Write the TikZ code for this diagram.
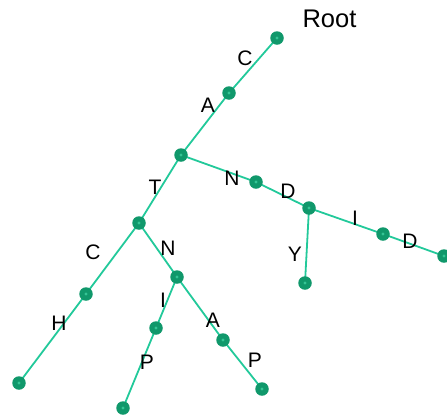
\documentclass[tikz,border=0pt]{standalone}
\usepackage{fontspec}
\setmainfont{Liberation Sans}
\definecolor{edgec}{HTML}{22C99A}
\definecolor{nodec}{HTML}{10986B}
\definecolor{dotc}{HTML}{35C495}
\begin{document}
\begin{tikzpicture}[x=1pt,y=-1pt,
  tn/.style={circle,fill=nodec,inner sep=0pt,minimum size=13.5pt,
    path picture={\fill[dotc] (path picture bounding box.center) circle (1.6pt);}},
  edge/.style={draw=edgec,line width=1.8pt},
  lbl/.style={font=\fontsize{21}{21}\selectfont,inner sep=0pt}]
\useasboundingbox (0,0) rectangle (447,416);
\coordinate (r) at (277,38);
\coordinate (a1) at (229,93);
\coordinate (t) at (181,155);
\coordinate (n1) at (256,182);
\coordinate (d1) at (309,208);
\coordinate (i1) at (383,234);
\coordinate (d2) at (444,256);
\coordinate (y) at (305,283);
\coordinate (c2) at (139,223);
\coordinate (h1) at (86,294);
\coordinate (h2) at (19,383);
\coordinate (n2) at (177,277);
\coordinate (i2) at (156,328);
\coordinate (p1) at (123,408);
\coordinate (a2) at (223,340);
\coordinate (p2) at (262,389);
\draw[edge] (r)--(a1) (a1)--(t) (t)--(n1) (n1)--(d1) (d1)--(i1) (i1)--(d2)
  (d1)--(y) (t)--(c2) (c2)--(h1) (h1)--(h2) (c2)--(n2) (n2)--(i2) (i2)--(p1)
  (n2)--(a2) (a2)--(p2);
\foreach \p in {r,a1,t,n1,d1,i1,d2,y,c2,h1,h2,n2,i2,p1,a2,p2}
  \node[tn] (N\p) at (\p) {};
\node[font=\fontsize{25.5}{25.5}\selectfont,inner sep=0pt] (root) at (329.5,19) {Root};
\node[lbl] (lC1) at (245,58) {C};
\node[lbl] (lA1) at (208,105) {A};
\node[lbl] (lT) at (155,187) {T};
\node[lbl] (lN1) at (232,178) {N};
\node[lbl] (lD1) at (288,191) {D};
\node[lbl] (lI1) at (355,218) {I};
\node[lbl] (lD2) at (410,241) {D};
\node[lbl] (lY) at (295,254) {Y};
\node[lbl] (lC2) at (93,252) {C};
\node[lbl] (lN2) at (168,248) {N};
\node[lbl] (lH) at (59,323) {H};
\node[lbl] (lI2) at (163,300) {I};
\node[lbl] (lP1) at (147,362) {P};
\node[lbl] (lA2) at (213,320) {A};
\node[lbl] (lP2) at (255,360) {P};
\end{tikzpicture}
\end{document}
